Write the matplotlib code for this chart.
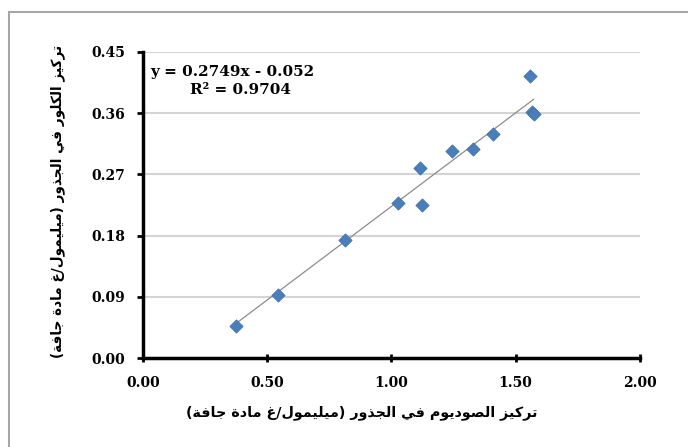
import matplotlib.pyplot as plt
from matplotlib.patches import Rectangle
import numpy as np

# data
sodium = [0.374, 0.543, 0.813, 1.026, 1.123, 1.115, 1.243, 1.328, 1.408, 1.557, 1.565, 1.572]
chlorine = [0.047, 0.093, 0.174, 0.228, 0.225, 0.279, 0.304, 0.307, 0.329, 0.415, 0.362, 0.359]
x_ticks = [0.0, 0.5, 1.0, 1.5, 2.0]
y_ticks = [0.0, 0.09, 0.18, 0.27, 0.36, 0.45]
slope, intercept = 0.2749, -0.052
r2 = 0.9704

x_label = "تركيز الصوديوم في الجذور (ميليمول/غ مادة جافة)"
y_label = "تركيز الكلور في الجذور (ميليمول/غ مادة جافة)"

# minimal arabic shaping, matplotlib has no bidi/shaping
# letter -> (isolated presentation form, dual joining)
forms = {
    'ا': (0xFE8D, False), 'ة': (0xFE93, False), 'ت': (0xFE95, True),
    'ج': (0xFE9D, True), 'د': (0xFEA9, False), 'ذ': (0xFEAB, False),
    'ر': (0xFEAD, False), 'ز': (0xFEAF, False), 'ص': (0xFEB9, True),
    'غ': (0xFECD, True), 'ف': (0xFED1, True), 'ك': (0xFED9, True),
    'ل': (0xFEDD, True), 'م': (0xFEE1, True), 'و': (0xFEED, False),
    'ي': (0xFEF1, True),
}


def shape(text):
    out = []
    for i, c in enumerate(text):
        if c not in forms:
            out.append(c)
            continue
        base, dual = forms[c]
        prev = text[i - 1] if i > 0 else ''
        nxt = text[i + 1] if i + 1 < len(text) else ''
        join_prev = prev in forms and forms[prev][1]
        join_next = dual and nxt in forms
        if join_prev and join_next:
            off = 3
        elif join_prev:
            off = 1
        elif join_next:
            off = 2
        else:
            off = 0
        out.append(chr(base + off))
    vis = ''.join(reversed(out))
    return vis.translate(str.maketrans('()', ')('))


plt.rcParams['font.family'] = ['DejaVu Serif', 'DejaVu Sans']

fig = plt.figure(figsize=(6.88, 4.47), dpi=100)
ax = fig.add_axes([0.208, 0.199, 0.722, 0.685])

fig.patches.append(Rectangle((9 / 688, -0.05), 1.2, 1 - 12 / 447 + 0.05,
                             transform=fig.transFigure, fill=False,
                             edgecolor='#a6a6a6', linewidth=1.5))

ax.scatter(sodium, chlorine, marker='D', s=46, color='#4a7ebb', zorder=3,
           edgecolors='#3f6fa8', linewidths=0.5)

xl = np.array([min(sodium), max(sodium)])
ax.plot(xl, slope * xl + intercept, color='#8c8c8c', linewidth=0.9, zorder=2)

ax.set_xlim(0, 2.0)
ax.set_ylim(0, 0.45)
ax.set_xticks(x_ticks)
ax.set_yticks(y_ticks)
ax.set_xticklabels(['%.2f' % v for v in x_ticks], fontsize=10, fontweight='bold')
ax.set_yticklabels(['%.2f' % v for v in y_ticks], fontsize=10, fontweight='bold')
ax.tick_params(axis='x', direction='inout', length=6, width=2, pad=10)
ax.tick_params(axis='y', direction='out', length=4, width=2, pad=9)

ax.yaxis.grid(True, color='#d4d4d4', linewidth=1.5)
ax.set_axisbelow(True)
for s in ['top', 'right']:
    ax.spines[s].set_visible(False)
for s in ['left', 'bottom']:
    ax.spines[s].set_linewidth(2.5)

ax.text(0.015, 0.92, 'y = %.4fx - %.3f' % (slope, -intercept),
        transform=ax.transAxes, fontsize=11, fontweight='bold')
ax.text(0.095, 0.862, 'R² = %.4f' % r2,
        transform=ax.transAxes, fontsize=11, fontweight='bold')

ax.set_xlabel(shape(x_label), family='DejaVu Sans', fontsize=10.3,
              fontweight='bold')
ax.xaxis.set_label_coords(0.44, -0.155)
ax.set_ylabel(shape(y_label), family='DejaVu Sans', fontsize=9.8,
              fontweight='bold')
ax.yaxis.set_label_coords(-0.158, 0.51)

fig.savefig('out.png', dpi=100)
